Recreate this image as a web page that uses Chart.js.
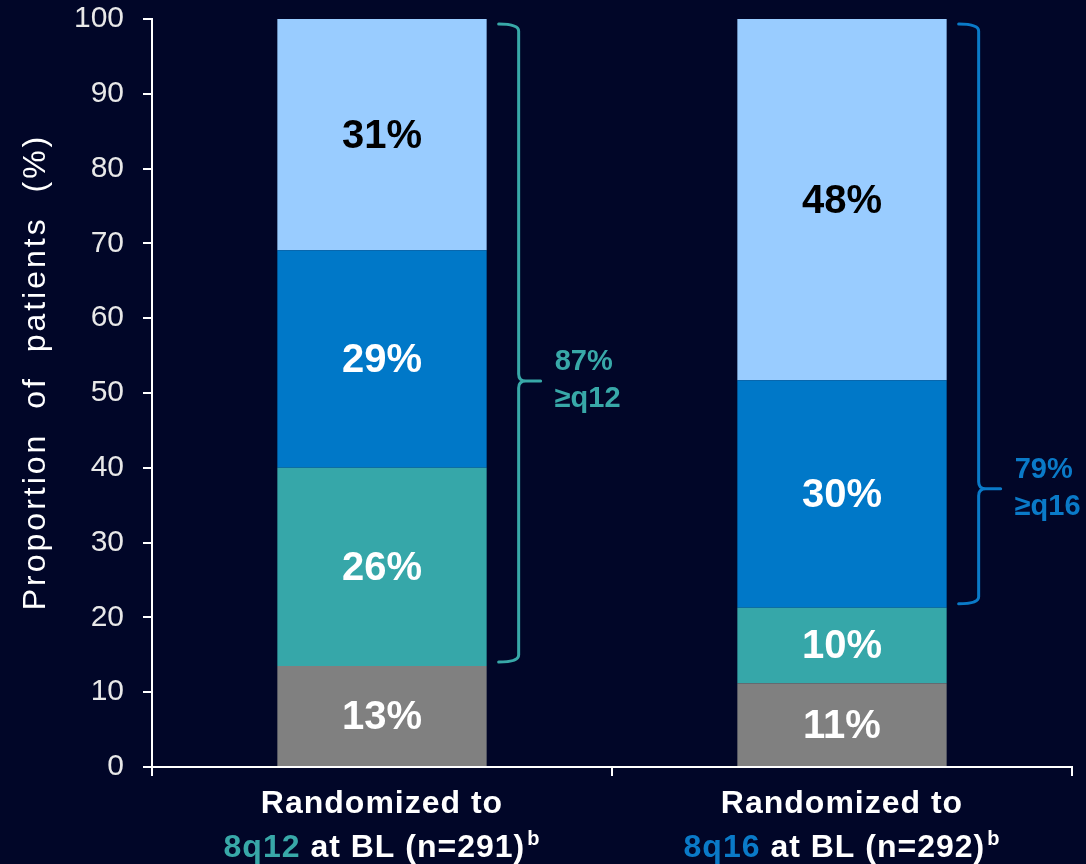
<!DOCTYPE html>
<html>
<head>
<meta charset="utf-8">
<script src="https://cdn.jsdelivr.net/npm/chart.js@4.4.1/dist/chart.umd.min.js"></script>
<style>
  html, body { margin: 0; padding: 0; background: #010628; }
  #wrap { width: 1086px; height: 864px; position: relative; }
</style>
</head>
<body>
<div id="wrap"><canvas id="chart"></canvas></div>
<script>
// data
const categories = ['8q12', '8q16'];
const sampleSizes = ['291', '292'];
const categoryColors = ['#38a8a8', '#0a7ac8'];

const greyVals = [13.5, 11.2];
const tealVals = [26.5, 10.1];
const blueVals = [29.1, 30.4];
const lightVals = [30.9, 48.3];

const greyLabels = ['13%', '11%'];
const tealLabels = ['26%', '10%'];
const blueLabels = ['29%', '30%'];
const lightLabels = ['31%', '48%'];

const bracketTotals = ['87%', '79%'];
const bracketNames = ['\u2265q12', '\u2265q16'];
const bracketFrom = [13.5, 21.3];   // bottom of the bracket (y value)
const bracketTip = [51.6, 37.2];    // where the point of the brace sits

const yTitle = 'Proportion of patients (%)';

const FONT = 'Arial, "Liberation Sans", sans-serif';

// draws segment %, the braces, the axis title and the two-colour x labels
const extrasPlugin = {
  id: 'extras',
  afterDatasetsDraw(chart) {
    const ctx = chart.ctx;
    ctx.save();
    ctx.textAlign = 'center';
    ctx.textBaseline = 'middle';
    ctx.font = 'bold 40px ' + FONT;
    chart.data.datasets.forEach((ds, di) => {
      const meta = chart.getDatasetMeta(di);
      meta.data.forEach((bar, i) => {
        const cy = (bar.y + bar.base) / 2 + 2;
        ctx.fillStyle = ds.labelColor;
        ctx.fillText(ds.segLabels[i], bar.x, cy);
      });
    });
    ctx.restore();
  },
  afterDraw(chart) {
    const ctx = chart.ctx;
    const y = chart.scales.y;
    const x = chart.scales.x;
    const meta = chart.getDatasetMeta(0);

    // braces
    ctx.save();
    ctx.lineWidth = 3;
    ctx.lineCap = 'round';
    meta.data.forEach((bar, i) => {
      const right = bar.x + bar.width / 2;
      const x0 = right + 12, xv = right + 32, xt = right + 54;
      const yTop = y.getPixelForValue(100) + 5;
      const yBot = y.getPixelForValue(bracketFrom[i]) - 4;
      const yTip = y.getPixelForValue(bracketTip[i]);
      const r = 7;
      ctx.strokeStyle = categoryColors[i];
      ctx.beginPath();
      ctx.moveTo(x0, yTop);
      ctx.quadraticCurveTo(xv, yTop, xv, yTop + r);
      ctx.lineTo(xv, yTip - r);
      ctx.quadraticCurveTo(xv, yTip, xv + r, yTip);
      ctx.lineTo(xt, yTip);
      ctx.moveTo(xv + r, yTip);
      ctx.quadraticCurveTo(xv, yTip, xv, yTip + r);
      ctx.lineTo(xv, yBot - r);
      ctx.quadraticCurveTo(xv, yBot, x0, yBot);
      ctx.stroke();

      ctx.fillStyle = categoryColors[i];
      ctx.font = 'bold 29px ' + FONT;
      ctx.textAlign = 'left';
      ctx.textBaseline = 'alphabetic';
      ctx.fillText(bracketTotals[i], xt + 14, yTip - 11);
      ctx.fillText(bracketNames[i], xt + 14, yTip + 26);
    });
    ctx.restore();

    // y axis title
    ctx.save();
    ctx.translate(36, 372);
    ctx.rotate(-Math.PI / 2);
    ctx.fillStyle = '#ffffff';
    ctx.font = '32px ' + FONT;
    ctx.letterSpacing = '3px';
    ctx.textAlign = 'center';
    ctx.textBaseline = 'middle';
    ctx.fillText(yTitle.split(' ').join('  '), 0, 0);
    ctx.restore();

    // x labels
    ctx.save();
    ctx.textBaseline = 'alphabetic';
    ctx.letterSpacing = '1px';
    categories.forEach((cat, i) => {
      const cx = x.getPixelForValue(i);
      ctx.font = 'bold 32px ' + FONT;
      ctx.fillStyle = '#ffffff';
      ctx.textAlign = 'center';
      ctx.fillText('Randomized to', cx, 813);

      const rest = ' at BL (n=' + sampleSizes[i] + ')';
      const wCat = ctx.measureText(cat).width;
      const wRest = ctx.measureText(rest).width;
      ctx.font = 'bold 20px ' + FONT;
      const wSup = ctx.measureText('b').width;
      let sx = cx - (wCat + wRest + wSup + 2) / 2;
      ctx.textAlign = 'left';
      ctx.font = 'bold 32px ' + FONT;
      ctx.fillStyle = categoryColors[i];
      ctx.fillText(cat, sx, 857);
      sx += wCat;
      ctx.fillStyle = '#ffffff';
      ctx.fillText(rest, sx, 857);
      sx += wRest + 2;
      ctx.font = 'bold 20px ' + FONT;
      ctx.fillText('b', sx, 845);
    });
    ctx.restore();
  }
};

new Chart(document.getElementById('chart'), {
  type: 'bar',
  data: {
    labels: categories,
    datasets: [
      { label: 'grey', data: greyVals, backgroundColor: '#808080', segLabels: greyLabels, labelColor: '#ffffff' },
      { label: 'teal', data: tealVals, backgroundColor: '#36a7a9', segLabels: tealLabels, labelColor: '#ffffff' },
      { label: 'blue', data: blueVals, backgroundColor: '#0078c8', segLabels: blueLabels, labelColor: '#ffffff' },
      { label: 'light blue', data: lightVals, backgroundColor: '#99ccff', segLabels: lightLabels, labelColor: '#000000' }
    ]
  },
  options: {
    responsive: true,
    maintainAspectRatio: false,
    animation: false,
    layout: { padding: { top: 19, right: 14, left: 0, bottom: 0 } },
    categoryPercentage: 0.455,
    barPercentage: 1,
    plugins: {
      legend: { display: false },
      tooltip: { enabled: false }
    },
    scales: {
      x: {
        stacked: true,
        grid: { display: true, drawOnChartArea: false, drawTicks: true, tickLength: 9, color: '#ffffff', lineWidth: 2 },
        border: { display: true, color: '#ffffff', width: 2 },
        ticks: { display: false },
        afterFit(scale) { scale.height = 97; }
      },
      y: {
        stacked: true,
        min: 0,
        max: 100,
        grid: { drawOnChartArea: false, drawTicks: true, tickLength: 9, color: '#ffffff', lineWidth: 2 },
        border: { display: true, color: '#ffffff', width: 2 },
        ticks: { stepSize: 10, color: '#e8e8e8', padding: 19, font: { family: FONT, size: 30 } },
        afterFit(scale) {
          scale.width = 152;
          scale.paddingTop = 0;
          scale.paddingBottom = 0;
        }
      }
    }
  },
  plugins: [extrasPlugin]
});
</script>
</body>
</html>
